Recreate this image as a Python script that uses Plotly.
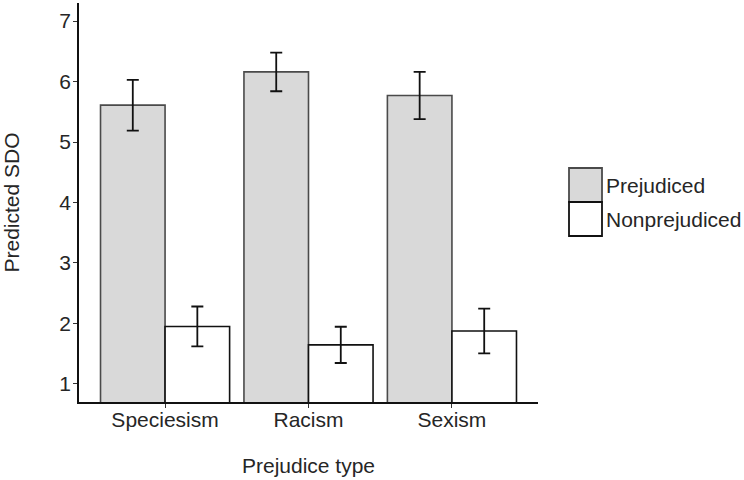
import plotly.graph_objects as go

categories = ["Speciesism", "Racism", "Sexism"]
groups = ["Prejudiced", "Nonprejudiced"]
prejudiced = [5.61, 6.16, 5.77]
prejudiced_err = [0.42, 0.32, 0.39]
nonprejudiced = [1.95, 1.645, 1.875]
nonprejudiced_err = [0.33, 0.30, 0.37]
y_ticks = [1, 2, 3, 4, 5, 6, 7]

FONT = "Liberation Sans, Arial, sans-serif"
TXT = "#262626"
FS = 21
fills = {"Prejudiced": "#d9d9d9", "Nonprejudiced": "#ffffff"}
edges = {"Prejudiced": "#4a4a4a", "Nonprejudiced": "#111111"}

fig = go.Figure()
for name, vals, errs in [("Prejudiced", prejudiced, prejudiced_err),
                         ("Nonprejudiced", nonprejudiced, nonprejudiced_err)]:
    fig.add_trace(go.Bar(
        name=name, x=categories, y=vals,
        marker=dict(color=fills[name], line=dict(color=edges[name], width=1.6)),
        error_y=dict(type="data", array=errs, visible=True, color="#111111",
                     thickness=1.8, width=6),
        showlegend=False,
    ))

W, H = 744, 480
L, R, T, B = 79, 206, 3, 78
pw, ph = W - L - R, H - T - B

def px_x(x):
    return (x - L) / pw

def px_y(y):
    return (H - B - y) / ph

# manual legend (large keys as in the reference)
key_x0, key_x1 = 569, 602
key_tops = [168, 202]
key_h = 34
for name, top in zip(groups, key_tops):
    fig.add_shape(type="rect", xref="paper", yref="paper",
                  x0=px_x(key_x0), x1=px_x(key_x1),
                  y0=px_y(top + key_h), y1=px_y(top),
                  fillcolor=fills[name], line=dict(color=edges[name], width=1.8))
    fig.add_annotation(text=name, xref="paper", yref="paper",
                       x=px_x(key_x1 + 2), y=px_y(top + key_h / 2),
                       xanchor="left", yanchor="middle", showarrow=False,
                       font=dict(family=FONT, size=FS, color=TXT))

fig.update_layout(
    width=W, height=H,
    margin=dict(l=L, r=R, t=T, b=B),
    paper_bgcolor="white", plot_bgcolor="white",
    barmode="group", bargap=0.1, bargroupgap=0.0,
    font=dict(family=FONT, size=FS, color=TXT),
    xaxis=dict(range=[-0.6, 2.6], showline=True, linecolor="#111111", linewidth=1.6,
               ticks="outside", ticklen=4, tickcolor="#333333", tickwidth=1.2,
               showgrid=False, zeroline=False, automargin=False,
               ticklabelstandoff=-6,
               title=dict(text="Prejudice type", standoff=28,
                          font=dict(family=FONT, size=FS, color=TXT)),
               tickfont=dict(family=FONT, size=FS, color=TXT)),
    yaxis=dict(range=[0.7, 7.3], tickvals=y_ticks, showline=True, linecolor="#111111",
               linewidth=1.6, ticks="outside", ticklen=4, tickcolor="#333333",
               tickwidth=1.2, showgrid=False, zeroline=False, automargin=False,
               ticklabelstandoff=-2,
               title=dict(text="Predicted SDO", standoff=34,
                          font=dict(family=FONT, size=FS, color=TXT)),
               tickfont=dict(family=FONT, size=FS, color=TXT)),
)

fig.write_html("out.html", config={"displayModeBar": False},
               post_script="document.body.style.margin='0';")
